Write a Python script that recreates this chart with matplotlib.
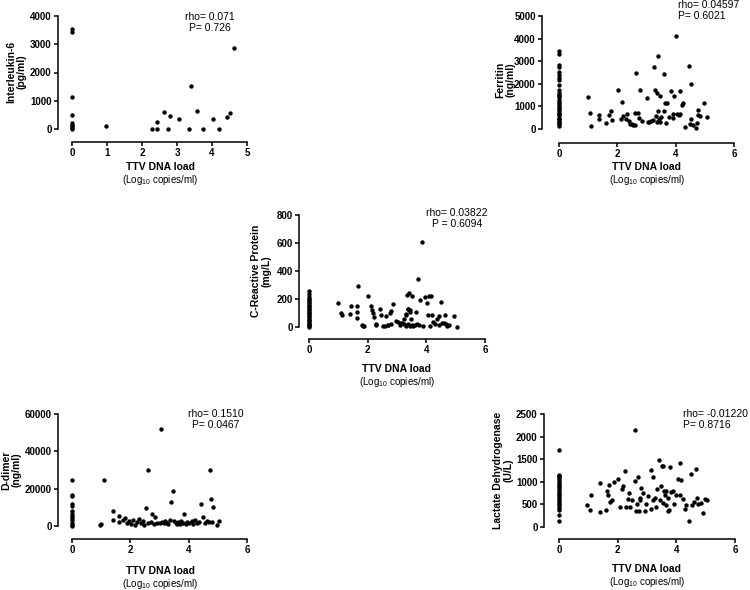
import matplotlib
matplotlib.use("Agg")
import matplotlib.pyplot as plt

plt.rcParams['font.family'] = ['Liberation Sans', 'DejaVu Sans']
plt.rcParams['mathtext.default'] = 'regular'

# ---------------- data ----------------
il6_x = [0]*9 + [0.98, 2.29, 2.43, 2.43, 2.63, 2.74, 2.80, 3.06, 3.33, 3.39, 3.57, 3.73, 4.02, 4.21, 4.43, 4.52, 4.64]
il6_y = [3550, 3450, 1130, 490, 200, 140, 90, 40, 0] + [90, 0, 0, 240, 590, 0, 450, 340, 0, 1520, 630, 0, 340, 0, 440, 580, 2850]

fer_zero = [3430, 3330, 2850, 2750, 2510, 2410, 2270, 2160, 1930, 1720, 1600, 1500, 1450, 1400, 1300, 1200, 1100,
            1000, 950, 900, 800, 700, 650, 600, 500, 450, 400, 300, 250, 200, 150]
fer_x = [0]*len(fer_zero) + [0.98, 1.06, 1.11, 1.38, 1.38, 1.61, 1.70, 1.78, 1.81, 2.02, 2.11, 2.16, 2.21, 2.29, 2.34,
         2.41, 2.45, 2.50, 2.64, 2.62, 2.71, 2.73, 2.78, 2.83, 3.00, 3.07, 3.16, 3.26, 3.30, 3.33, 3.37, 3.39, 3.39,
         3.46, 3.48, 3.46, 3.59, 3.61, 3.63, 3.71, 3.67, 3.78, 3.83, 3.90, 3.95, 4.01, 4.03, 4.14, 4.16, 4.22, 4.26,
         4.45, 4.32, 4.48, 4.51, 4.53, 4.60, 4.69, 4.74, 4.76, 4.78, 4.85, 4.97, 5.06,
         3.22, 3.35, 3.42, 2.55, 2.60, 3.05, 3.90, 4.10]
fer_y = fer_zero + [1418, 687, 146, 614, 424, 263, 614, 804, 420, 1740, 450, 1184, 557, 424, 658, 350, 219, 219,
                    2470, 716, 716, 470, 1740, 370, 1390, 330, 370, 2763, 1740, 580, 1600, 3216, 775, 1480, 510, 290,
                    2412, 800, 1130, 1170, 260, 510, 1680, 660, 1450, 4110, 660, 1680, 660, 1040, 1170, 2790, 110,
                    220, 2000, 450, 160, 60, 260, 830, 620, 580, 1140, 540,
                    420, 300, 430, 160, 170, 300, 480, 600]

crp_zero = [255, 235, 215, 200, 190, 180, 170, 160, 150, 140, 130, 120, 110, 100, 90, 80, 70, 60, 50, 40, 30, 20, 12, 5, 0]
crp_x = [0]*len(crp_zero) + [1.0, 1.08, 1.14, 1.42, 1.39, 1.62, 1.62, 1.62, 1.68, 1.82, 1.89, 2.02, 2.10, 2.15, 2.19,
         2.23, 2.30, 2.43, 2.47, 2.52, 2.62, 2.70, 2.75, 2.79, 2.87, 2.81, 3.03, 3.09, 3.16, 3.23, 3.30, 3.34, 3.41,
         3.39, 3.43, 3.45, 3.52, 3.30, 3.36, 3.44, 3.52, 3.60, 3.68, 3.72, 3.66, 3.85, 3.80, 3.95, 4.01, 4.08, 4.17,
         4.06, 4.19, 4.23, 4.30, 4.42, 4.49, 4.42, 4.55, 4.64, 4.68, 4.78, 4.95, 5.03,
         1.85, 2.28, 2.60, 2.68, 2.95, 3.12, 3.25, 3.32, 3.38, 3.48, 3.56, 3.75, 3.90, 4.12, 4.35, 4.60, 4.72]
crp_y = crp_zero + [169, 98, 86, 150, 90, 150, 105, 64, 290, 14, 7, 221, 150, 124, 98, 74, 14, 129, 86, 10, 81, 14,
                    102, 114, 167, 19, 38, 14, 31, 24, 86, 229, 240, 129, 121, 105, 221, 10, 18, 8, 15, 12, 20, 340,
                    105, 609, 190, 214, 169, 221, 221, 86, 86, 38, 24, 81, 179, 14, 31, 86, 19, 14, 76, 2,
                    5, 18, 8, 12, 40, 30, 60, 95, 130, 60, 10, 15, 5, 10, 60, 30, 5]

dd_zero = [24800, 16800, 16000, 11800, 10700, 7900, 6600, 5400, 4300, 3000, 1800, 700, 0]
dd_x = [0]*len(dd_zero) + [0.95, 1.01, 1.10, 1.39, 1.39, 1.60, 1.62, 1.75, 1.81, 1.88, 1.95, 2.02, 2.10, 2.15, 2.22,
       2.30, 2.35, 2.42, 2.48, 2.54, 2.59, 2.62, 2.70, 2.75, 2.80, 2.85, 2.92, 3.00, 3.06, 3.10, 3.15, 3.20, 3.25,
       3.30, 3.35, 3.41, 3.46, 3.50, 3.55, 3.60, 3.65, 3.70, 3.75, 3.80, 3.85, 3.90, 3.95, 4.00, 4.10, 4.15, 4.20,
       4.30, 4.35, 4.42, 4.49, 4.55, 4.62, 4.68, 4.74, 4.77, 4.85, 4.80, 4.97, 5.05]
dd_y = dd_zero + [700, 1300, 24800, 7900, 3000, 5600, 2000, 3200, 4300, 1800, 2500, 1200, 3000, 800, 2200, 3500, 1500,
                  2600, 700, 9600, 30000, 1600, 2200, 6400, 1200, 4800, 1800, 1500, 52000, 2300, 1400, 2800, 1800,
                  1200, 3200, 12700, 18900, 2500, 1700, 1000, 2200, 1300, 2800, 1600, 6600, 1100, 2000, 1500, 2500,
                  1200, 3000, 1800, 2400, 11800, 5000, 1500, 2700, 2200, 30000, 14400, 10200, 2000, 500, 2700]

ldh_zero = [1696, 1160, 1130, 1100, 1060, 1020, 980, 940, 900, 860, 820, 780, 740, 700, 660, 620, 580, 540, 500,
            460, 420, 385, 272, 126]
ldh_x = [0]*len(ldh_zero) + [0.97, 1.05, 1.10, 1.40, 1.40, 1.59, 1.63, 1.68, 1.72, 1.79, 1.88, 1.75, 2.02, 2.07,
         2.16, 2.19, 2.26, 2.30, 2.35, 2.39, 2.43, 2.50, 2.59, 2.60, 2.63, 2.66, 2.68, 2.72, 2.75, 2.77, 2.80, 2.86,
         2.92, 2.97, 3.05, 3.12, 3.15, 3.20, 3.22, 3.27, 3.30, 3.35, 3.40, 3.44, 3.48, 3.50, 3.53, 3.56, 3.59, 3.62,
         3.65, 3.65, 3.70, 3.72, 3.76, 3.79, 3.82, 3.88, 3.92, 3.98, 4.06, 4.11, 4.13, 4.16, 4.22, 4.28, 4.33, 4.42,
         4.49, 4.55, 4.60, 4.66, 4.71, 4.75, 4.83, 4.90, 4.98, 5.04]
ldh_y = ldh_zero + [480, 385, 700, 330, 967, 385, 796, 700, 920, 600, 990, 560, 1062, 435, 845, 906, 1232, 435, 620,
                    750, 435, 600, 1025, 2139, 350, 500, 1110, 350, 640, 600, 870, 755, 360, 500, 680, 1260, 400,
                    1100, 600, 650, 450, 850, 1480, 600, 900, 1350, 540, 1350, 800, 700, 800, 480, 650, 350, 370,
                    1320, 780, 800, 500, 700, 1070, 700, 1420, 1050, 620, 400, 480, 126, 1170, 480, 550, 1290, 650,
                    500, 520, 310, 620, 590]

rho_texts = ["rho= 0.071\nP= 0.726", "rho= 0.04597\nP= 0.6021", "rho= 0.03822\nP = 0.6094",
             "rho= 0.1510\nP= 0.0467", "rho= -0.01220\nP= 0.8716"]
y_labels = ["Interleukin-6\n(pg/ml)", "Ferritin\n(ng/ml)", "C-Reactive Protein\n(mg/L)",
            "D-dimer\n(ng/ml)", "Lactate Dehydrogenase\n(U/L)"]

# ---------------- layout ----------------
W, H = 750, 590
fig = plt.figure(figsize=(W/100, H/100), dpi=100)

# (yspine_x, x0_px, xmax_px, xspine_y, y0_px, ymax_px, xmax, ymax, xstep, ystep)
panels = [
    (58, 72, 247, 142, 129, 16, 5, 4000, 1, 1000),
    (542, 559, 734, 143, 129, 16, 6, 5000, 2, 1000),
    (299, 309, 485, 339, 327, 215, 6, 800, 2, 200),
    (58, 72, 247, 539, 526, 414, 6, 60000, 2, 20000),
    (544, 559, 735, 539, 527, 414, 6, 2500, 2, 500),
]
data = [(il6_x, il6_y), (fer_x, fer_y), (crp_x, crp_y), (dd_x, dd_y), (ldh_x, ldh_y)]
# text positions (px): rho text (x, y, ha), ylabel center, xlabel center
rho_pos = [(210, 12, 'center'), (678, 0, 'left'), (457, 208, 'center'), (216, 409, 'center'), (683, 409, 'left')]
ylab_pos = [(16, 72), (505, 80), (261, 271), (11, 470), (503, 470)]
xlab_pos = [(160, 167), (647, 167), (397, 369), (160, 571), (647, 569)]


def fx(px):
    return px / W


def fy(py):
    return 1 - py / H


for i, (p, (xs, ys)) in enumerate(zip(panels, data)):
    ysx, x0p, xmp, xsy, y0p, ymp, xmax, ymax, xstep, ystep = p
    ax = fig.add_axes([fx(ysx), fy(xsy), (xmp - ysx) / W, (xsy - ymp) / H])
    xscale = (xmp - x0p) / xmax
    yscale = (y0p - ymp) / ymax
    ax.set_xlim(-(x0p - ysx) / xscale, xmax)
    ax.set_ylim(-(xsy - y0p) / yscale, ymax)
    ax.scatter(xs, ys, s=10, color='black', linewidths=0, clip_on=False, zorder=3)
    for s in ['top', 'right']:
        ax.spines[s].set_visible(False)
    ax.spines['left'].set_bounds(0, ymax)
    ax.spines['bottom'].set_bounds(0, xmax)
    for s in ['left', 'bottom']:
        ax.spines[s].set_linewidth(1.1)
    xt = list(range(0, xmax + 1, xstep))
    yt = list(range(0, ymax + 1, ystep))
    ax.set_xticks(xt, [str(v) for v in xt], fontweight='bold', fontsize=7)
    ax.set_yticks(yt, [str(v) for v in yt], fontweight='bold', fontsize=7)
    ax.tick_params(direction='out', length=3, width=1.1, pad=1.5)
    ax.patch.set_visible(False)

    rx, ry, rha = rho_pos[i]
    fig.text(fx(rx), fy(ry), rho_texts[i], ha=rha, va='top', fontsize=7.5, linespacing=1.15,
             multialignment='center' if rha == 'center' else 'left')
    lx, ly = ylab_pos[i]
    fig.text(fx(lx), fy(ly), y_labels[i], rotation=90, ha='center', va='center', fontsize=7.5,
             fontweight='bold', linespacing=1.05, multialignment='center')
    cx, cy = xlab_pos[i]
    fig.text(fx(cx), fy(cy), "TTV DNA load", ha='center', va='center', fontsize=7.5, fontweight='bold')
    fig.text(fx(cx), fy(cy + 13), "(Log$_{10}$ copies/ml)", ha='center', va='center', fontsize=7)

fig.savefig("out.png", dpi=100)
